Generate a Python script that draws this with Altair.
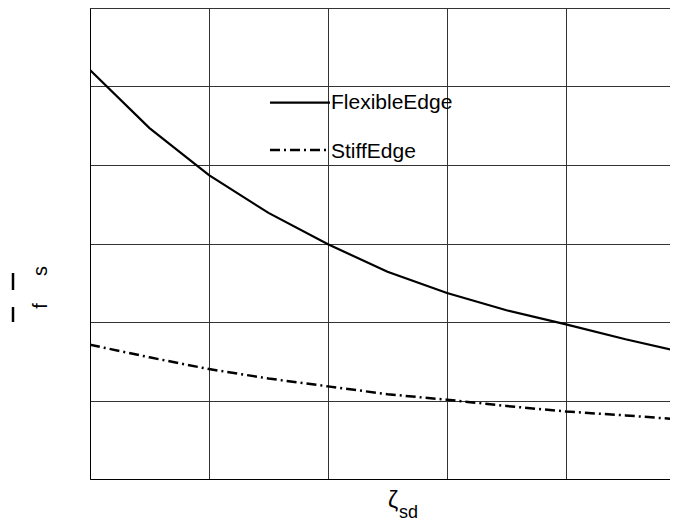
import altair as alt
import pandas as pd

# x positions (zeta_sd) and series values
zeta = [0, 0.5, 1, 1.5, 2, 2.5, 3, 3.5, 4, 4.5, 4.94]
flexible = [5.21, 4.47, 3.87, 3.39, 2.99, 2.64, 2.37, 2.15, 1.97, 1.78, 1.63]
stiff = [1.71, 1.55, 1.40, 1.28, 1.18, 1.08, 1.01, 0.93, 0.86, 0.81, 0.76]
x_grid = [0, 1, 2, 3, 4]
y_grid = [0, 1, 2, 3, 4, 5, 6]
legend_names = ["FlexibleEdge", "StiffEdge"]

df = pd.DataFrame({"zeta": zeta, "flexible": flexible, "stiff": stiff})

W, H = 580, 471
X_MAX = W / 119.0
FONT = "Liberation Sans"
DASH = [10, 4, 2, 4]

ax_common = dict(labels=False, ticks=False, title=None, grid=True, gridColor="#333",
                 gridOpacity=1, gridWidth=1, domainColor="#000", domainWidth=1)
xs = alt.X("zeta:Q", scale=alt.Scale(domain=[0, X_MAX], nice=False, zero=False),
           axis=alt.Axis(values=x_grid, **ax_common))
ys = alt.Y("flexible:Q", scale=alt.Scale(domain=[0, 6], nice=False),
           axis=alt.Axis(values=y_grid, **ax_common))

base = alt.Chart(df)
flex_line = base.mark_line(color="black", strokeWidth=2.2, clip=True).encode(x=xs, y=ys)
stiff_line = base.mark_line(color="black", strokeWidth=2.5, strokeDash=DASH, clip=True).encode(
    x=alt.X("zeta:Q"), y=alt.Y("stiff:Q"))

one = alt.Data(values=[{"a": 1}])

def txt(t, x, y, size, angle=0, align="center", baseline="middle"):
    kw = dict(text=t, fontSize=size, font=FONT, color="black", align=align, baseline=baseline)
    if angle:
        kw["angle"] = angle
    return alt.Chart(one).mark_text(**kw).encode(x=alt.value(x), y=alt.value(y))

def leg_rule(y, dash=None, width=2.2):
    kw = dict(color="black", strokeWidth=width)
    if dash:
        kw["strokeDash"] = dash
    return alt.Chart(one).mark_rule(**kw).encode(
        x=alt.value(180), x2=alt.value(240), y=alt.value(y))

def vbar(x, y1, y2):
    return alt.Chart(one).mark_rule(color="black", strokeWidth=2.5).encode(
        x=alt.value(x), y=alt.value(y1), y2=alt.value(y2))

layers = [
    flex_line, stiff_line,
    leg_rule(94.7), leg_rule(142, DASH, 2.5),
    txt(legend_names[0], 241, 95, 21, align="left"),
    txt(legend_names[1], 241, 144, 21, align="left"),
    # y-axis title: overlined f and s
    txt("f", -49, 298, 20, angle=270),
    txt("s", -49, 263, 20, angle=270),
    vbar(-77, 299, 314),
    vbar(-77, 265, 282),
    # x-axis title: zeta with subscript sd
    txt("\u03b6", 303, 493, 23),
    txt("sd", 309, 505, 18, align="left"),
]

chart = alt.layer(*layers).properties(
    width=W, height=H,
    autosize=alt.AutoSizeParams(type="none"),
    padding={"left": 82, "top": 0, "right": 0, "bottom": 44},
).configure_view(stroke=None).configure(background="white")

chart.save("out.html", embed_options={"renderer": "svg", "actions": False})
